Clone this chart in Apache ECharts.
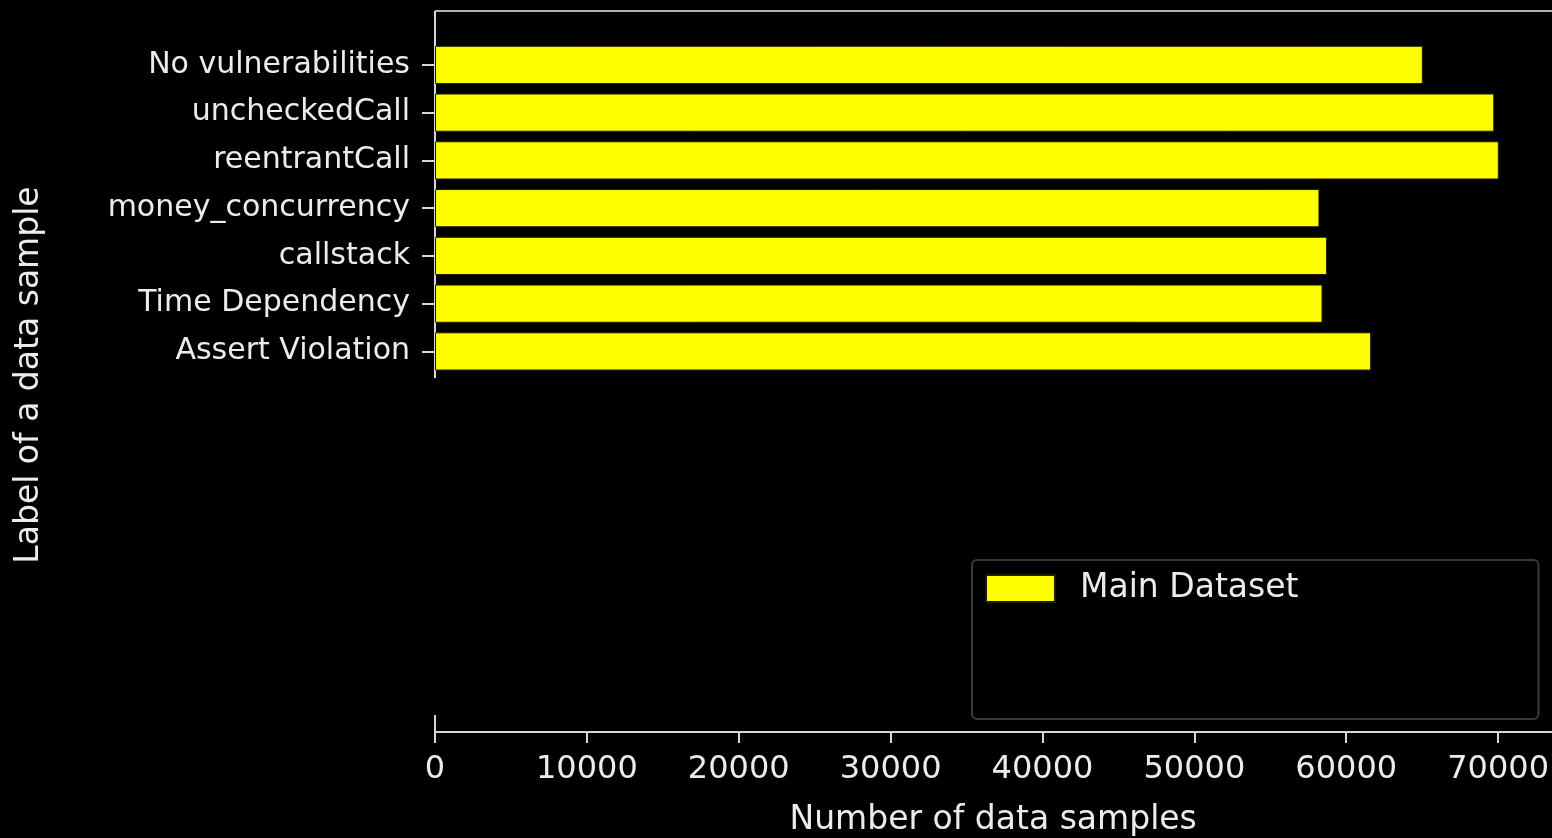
<!DOCTYPE html>
<html>
<head>
<meta charset="utf-8">
<script src="https://cdn.jsdelivr.net/npm/echarts@6/dist/echarts.min.js"></script>
<style>
  html, body { margin: 0; padding: 0; background: #000; }
  #chart { width: 1552px; height: 838px; }
</style>
</head>
<body>
<div id="chart"></div>
<script>
// Vulnerability labels, listed top to bottom
const categories = [
  'No vulnerabilities',
  'uncheckedCall',
  'reentrantCall',
  'money_concurrency',
  'callstack',
  'Time Dependency',
  'Assert Violation'
];
// Number of samples per label
const sampleCounts = [65000, 69700, 70000, 58200, 58700, 58400, 61600];
const seriesName = 'Main Dataset';
const xTicks = { min: 0, max: 73500, interval: 10000 };

const FONT = 'DejaVu Sans';
const TEXT = '#ececec';
const SPINE = '#d6d6d6';

const plotLeft = 435;
const plotWidth = 1118.7;

const chart = echarts.init(document.getElementById('chart'), null, { renderer: 'canvas' });

chart.setOption({
  backgroundColor: '#000000',
  animation: false,
  textStyle: { fontFamily: FONT },
  grid: [
    { left: plotLeft, width: plotWidth, top: 41, height: 334.3 },
    { left: plotLeft, width: plotWidth, top: 700, height: 36 }
  ],
  xAxis: [
    {
      gridIndex: 0, type: 'value', min: xTicks.min, max: xTicks.max, interval: xTicks.interval,
      show: false, splitLine: { show: false }
    },
    {
      gridIndex: 1, type: 'value', min: xTicks.min, max: xTicks.max, interval: xTicks.interval,
      position: 'bottom',
      axisLine: { show: true, onZero: false, lineStyle: { color: SPINE, width: 2 } },
      axisTick: { show: true, length: 11, lineStyle: { color: SPINE, width: 2 } },
      axisLabel: {
        color: TEXT, fontSize: 32, fontFamily: FONT, margin: 22, showMaxLabel: false,
        formatter: (v) => String(v)
      },
      splitLine: { show: false },
      name: 'Number of data samples',
      nameLocation: 'middle',
      nameGap: 72,
      nameTextStyle: { color: TEXT, fontSize: 33, fontFamily: FONT }
    }
  ],
  yAxis: [
    {
      gridIndex: 0, type: 'category', data: categories, inverse: true,
      axisLine: { show: false },
      axisTick: { show: true, alignWithLabel: true, length: 13, lineStyle: { color: SPINE, width: 2 } },
      axisLabel: { color: TEXT, fontSize: 30, fontFamily: FONT, margin: 25, padding: [3, 0, 0, 0] },
      splitLine: { show: false }
    },
    {
      gridIndex: 1, type: 'value', min: 0, max: 1, show: false, splitLine: { show: false }
    }
  ],
  legend: {
    data: [seriesName],
    left: 972,
    top: 560,
    orient: 'vertical',
    icon: 'rect',
    itemWidth: 69,
    itemHeight: 27,
    backgroundColor: '#000000',
    borderColor: '#3a3a3a',
    borderWidth: 2,
    borderRadius: 5,
    padding: [12, 240, 114, 13],
    textStyle: { color: TEXT, fontSize: 33, fontFamily: FONT, padding: [0, 0, 0, 20] }
  },
  series: [
    {
      name: seriesName,
      type: 'bar',
      xAxisIndex: 0,
      yAxisIndex: 0,
      data: sampleCounts,
      barCategoryGap: '20%',
      itemStyle: { color: '#ffff00', borderColor: '#1e1e00', borderWidth: 1 }
    }
  ],
  graphic: [
    // frame lines around the plot area
    { type: 'line', shape: { x1: plotLeft, y1: 11, x2: 1552, y2: 11 }, style: { stroke: '#b0b0b0', lineWidth: 2 }, silent: true },
    { type: 'line', shape: { x1: plotLeft, y1: 11, x2: plotLeft, y2: 378 }, style: { stroke: SPINE, lineWidth: 2 }, silent: true },
    { type: 'line', shape: { x1: plotLeft, y1: 715, x2: plotLeft, y2: 736 }, style: { stroke: SPINE, lineWidth: 2 }, silent: true },
    // y-axis title
    {
      type: 'text',
      x: 29, y: 375,
      rotation: Math.PI / 2,
      style: {
        text: 'Label of a data sample',
        fill: TEXT,
        font: '33px "DejaVu Sans"',
        textAlign: 'center',
        textVerticalAlign: 'middle'
      },
      silent: true
    }
  ]
});
</script>
</body>
</html>
